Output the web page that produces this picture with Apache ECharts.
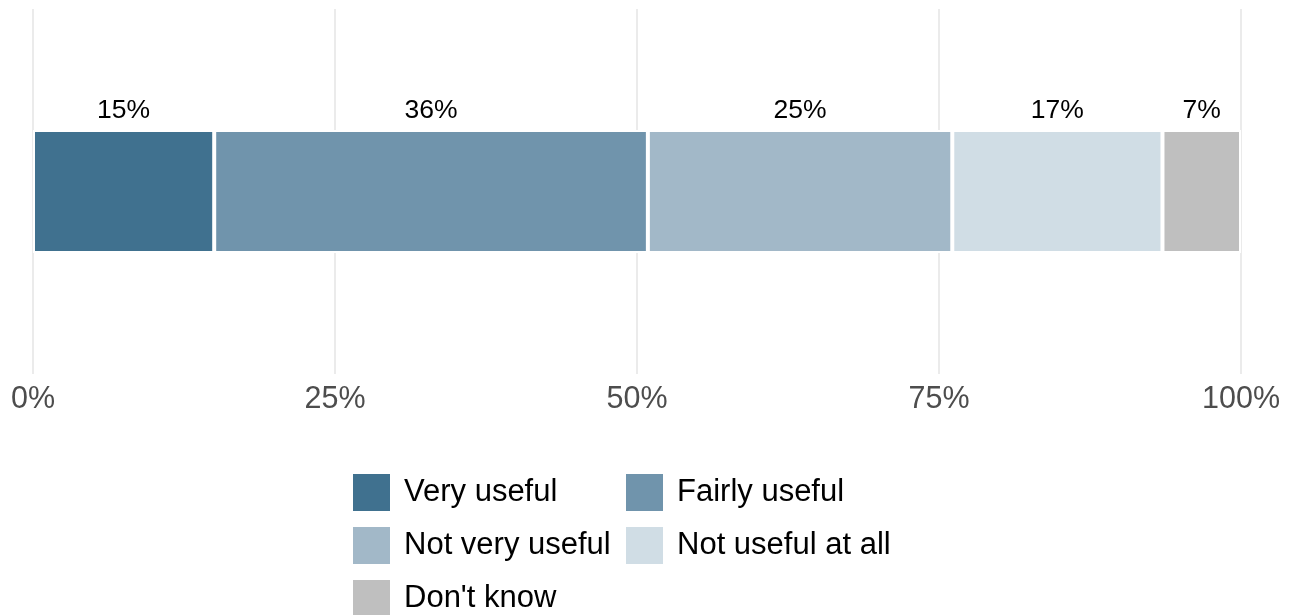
<!DOCTYPE html>
<html>
    <head>
        <meta charset="utf-8">
        <script src="https://cdn.jsdelivr.net/npm/echarts@6/dist/echarts.min.js"></script>
        <style>
            html, body {
                margin: 0;
                padding: 0;
                background: #fff;
            }
            #main {
                width: 1293px;
                height: 615px;
            }
        </style>
    </head>
    <body>
        <div id="main"></div>

        <script>

            // answer shares, in percent
            var categories = ['Very useful', 'Fairly useful', 'Not very useful', 'Not useful at all', "Don't know"];
            var values = [15.0, 35.9, 25.2, 17.4, 6.5];
            var colors = ['#40718f', '#7094ac', '#a2b8c8', '#d0dde5', '#bfbfbf'];
            var xTicks = [0, 25, 50, 75, 100];

            var font = "'Liberation Sans', Arial, sans-serif";

            var chart = echarts.init(document.getElementById('main'));

            var series = categories.map(function (name, i) {
                return {
                    name: name,
                    type: 'bar',
                    stack: 'total',
                    barWidth: 123,
                    itemStyle: {
                        color: colors[i],
                        borderColor: '#fff',
                        borderWidth: 2
                    },
                    label: {
                        show: true,
                        position: 'top',
                        distance: 6,
                        color: '#000',
                        fontFamily: font,
                        fontSize: 26.5,
                        formatter: function (p) {
                            return Math.round(p.value) + '%';
                        }
                    },
                    data: [values[i]]
                };
            });

            // two-column legend, one legend block per item
            var legendPos = [
                [353, 474], [626, 474],
                [353, 527], [626, 527],
                [353, 580]
            ];
            var legends = categories.map(function (name, i) {
                return {
                    data: [name],
                    left: legendPos[i][0],
                    top: legendPos[i][1],
                    padding: 0,
                    icon: 'rect',
                    itemWidth: 37,
                    itemHeight: 37,
                    selectedMode: false,
                    itemStyle: {borderWidth: 0},
                    textStyle: {
                        fontFamily: font,
                        fontSize: 31,
                        color: '#000',
                        padding: [4, 0, 0, 9]
                    }
                };
            });

            chart.setOption({
                animation: false,
                grid: {
                    left: 33,
                    right: 52,
                    top: 9,
                    bottom: 241
                },
                legend: legends,
                xAxis: {
                    type: 'value',
                    min: xTicks[0],
                    max: xTicks[xTicks.length - 1],
                    interval: xTicks[1] - xTicks[0],
                    axisLine: {show: false},
                    axisTick: {show: false},
                    splitLine: {
                        show: true,
                        lineStyle: {color: '#ebebeb', width: 2}
                    },
                    axisLabel: {
                        margin: 10,
                        color: '#4d4d4d',
                        fontFamily: font,
                        fontSize: 30.5,
                        formatter: '{value}%'
                    }
                },
                yAxis: {
                    type: 'category',
                    data: [''],
                    axisLine: {show: false},
                    axisTick: {show: false},
                    axisLabel: {show: false},
                    splitLine: {show: false}
                },
                series: series
            });

        </script>
    </body>
</html>
